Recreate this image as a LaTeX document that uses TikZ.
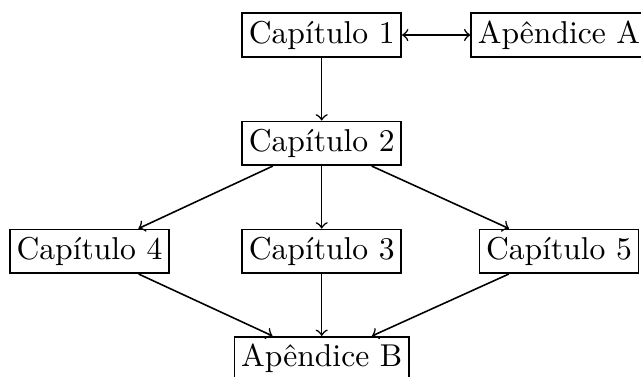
\documentclass[tikz,border=0pt]{standalone}
\begin{document}
\begin{tikzpicture}[x=0.31646pt,y=-0.31646pt,
  box/.style={draw,line width=0.5pt,inner xsep=2.1pt,inner ysep=0pt,minimum height=13.9pt},
  arr/.style={->,line width=0.5pt}]
\useasboundingbox (0,0) rectangle (641,376);
\node[box] (c1) at (321.7,35) {Capítulo 1};
\node[box] (aA) at (559,35) {Apêndice A};
\node[box] (c2) at (321.7,143.3) {Capítulo 2};
\node[box] (c4) at (89.5,251.3) {Capítulo 4};
\node[box] (c3) at (321.7,251.3) {Capítulo 3};
\node[box] (c5) at (559,251.3) {Capítulo 5};
\node[box] (aB) at (321.7,358.7) {Apêndice B};
\draw[arr,<->] (c1) -- (aA);
\draw[arr] (c1) -- (c2);
\draw[arr] (c2) -- (c4);
\draw[arr] (c2) -- (c3);
\draw[arr] (c2) -- (c5);
\draw[arr] (c4) -- (aB);
\draw[arr] (c3) -- (aB);
\draw[arr] (c5) -- (aB);
\end{tikzpicture}
\end{document}
